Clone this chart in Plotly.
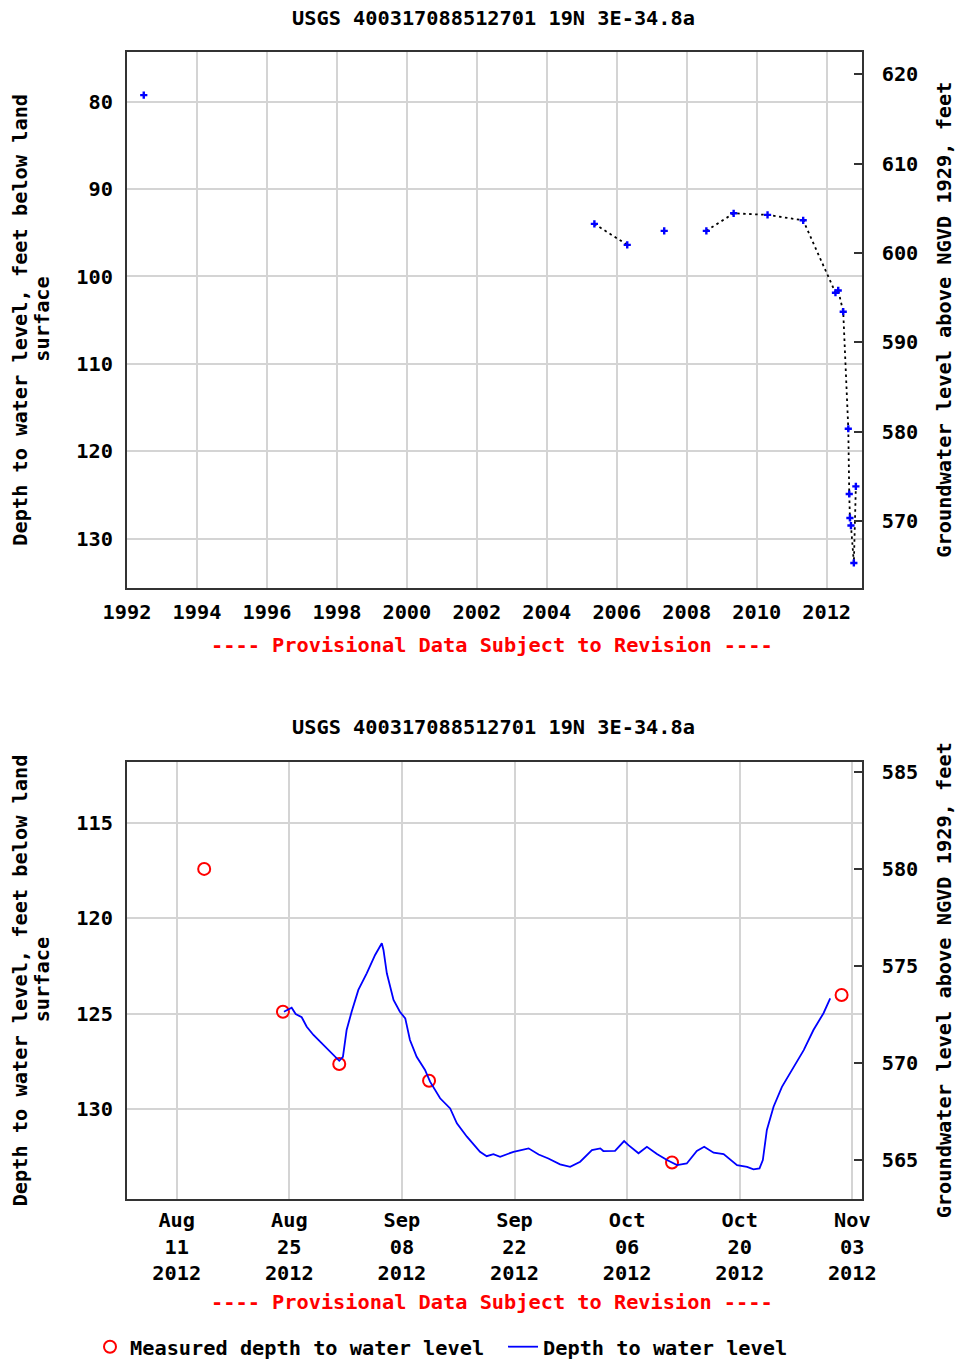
import plotly.graph_objects as go

# ---------------- data ----------------
site_title = "USGS 400317088512701 19N 3E-34.8a"
provisional = "---- Provisional Data Subject to Revision ----"

# Top chart: periodic measurements (depth below land surface, ft)
top_dates = ["1992-06-24", "2005-05-12", "2006-04-20", "2007-05-11", "2008-07-24",
             "2009-05-05", "2010-04-24", "2011-05-01", "2012-04-02", "2012-05-01",
             "2012-06-22", "2012-08-14", "2012-08-24", "2012-08-31", "2012-09-11",
             "2012-10-11", "2012-11-01"]
top_depths = [79.25, 93.98, 96.38, 94.78, 94.78,
              92.77, 92.95, 93.57, 101.86, 101.60,
              104.03, 117.42, 124.89, 127.63, 128.50,
              132.78, 124.02]
# indices before which the dotted connecting line is broken
top_line_breaks = [1, 3, 4]

# Bottom chart: measured depths
meas_dates = ["2012-08-14 10:00", "2012-08-24 05:00", "2012-08-31 05:00",
              "2012-09-11 09:00", "2012-10-11 14:00", "2012-11-01 16:00"]
meas_depths = [117.42, 124.89, 127.63, 128.50, 132.78, 124.02]

# Bottom chart: continuous depth record
line_dates = [
    "2012-08-24 08:00", "2012-08-25 07:00", "2012-08-25 19:00", "2012-08-26 13:00",
    "2012-08-27 04:00", "2012-08-28 00:00", "2012-08-28 20:00", "2012-08-29 21:00",
    "2012-08-31 05:00", "2012-08-31 16:00", "2012-09-01 03:00", "2012-09-01 18:00",
    "2012-09-02 14:00", "2012-09-03 15:00", "2012-09-04 16:00", "2012-09-05 12:00",
    "2012-09-05 17:00", "2012-09-06 03:00", "2012-09-06 23:00", "2012-09-07 18:00",
    "2012-09-08 10:00", "2012-09-09 00:00", "2012-09-09 20:00", "2012-09-10 21:00",
    "2012-09-11 12:00", "2012-09-12 18:00", "2012-09-14 00:00", "2012-09-14 20:00",
    "2012-09-16 02:00", "2012-09-17 17:00", "2012-09-18 13:00", "2012-09-19 09:00",
    "2012-09-20 05:00", "2012-09-21 21:00", "2012-09-23 18:00", "2012-09-25 00:00",
    "2012-09-26 05:00", "2012-09-27 16:00", "2012-09-28 22:00", "2012-09-30 04:00",
    "2012-10-01 15:00", "2012-10-02 16:00", "2012-10-03 01:00", "2012-10-04 12:00",
    "2012-10-05 15:00", "2012-10-06 04:00", "2012-10-07 10:00", "2012-10-08 11:00",
    "2012-10-09 17:00", "2012-10-10 23:00", "2012-10-12 05:00", "2012-10-13 10:00",
    "2012-10-14 16:00", "2012-10-15 14:00", "2012-10-16 18:00", "2012-10-18 00:00",
    "2012-10-19 16:00", "2012-10-20 22:00", "2012-10-21 17:00", "2012-10-22 11:00",
    "2012-10-22 21:00", "2012-10-23 09:00", "2012-10-24 05:00", "2012-10-25 06:00",
    "2012-10-26 12:00", "2012-10-27 23:00", "2012-10-29 04:00", "2012-10-30 10:00",
    "2012-10-31 06:00"]
line_depths = [
    124.89, 124.68, 125.01, 125.18,
    125.68, 126.11, 126.46, 126.90,
    127.46, 127.25, 125.85, 124.89,
    123.75, 122.88, 121.92, 121.31,
    121.66, 122.88, 124.28, 124.89,
    125.24, 126.37, 127.25, 127.94,
    128.55, 129.42, 129.95, 130.73,
    131.43, 132.22, 132.45, 132.34,
    132.48, 132.22, 132.04, 132.36,
    132.57, 132.88, 133.01, 132.74,
    132.13, 132.04, 132.18, 132.17,
    131.66, 131.87, 132.30, 131.96,
    132.34, 132.65, 132.92, 132.83,
    132.17, 131.96, 132.27, 132.34,
    132.92, 133.01, 133.14, 133.09,
    132.65, 131.08, 129.86, 128.82,
    127.94, 126.90, 125.85, 124.97,
    124.19]

# ---------------- styling ----------------
W, H = 955, 1359
FONT = dict(family="DejaVu Sans Mono", size=20.3, color="black", weight="bold")
GRID = "#d4d4d4"
LINE = "#333333"


def px(x):
    return x / W


def py(y):
    return 1 - y / H


XDOM = [px(127), px(861.7)]
TOP_DOM = [py(587.7), py(51.7)]
BOT_DOM = [py(1199), py(761.7)]

# build dotted line with breaks
dl_x, dl_y = [], []
for i, (d, v) in enumerate(zip(top_dates, top_depths)):
    if i in top_line_breaks and dl_x:
        dl_x.append(None)
        dl_y.append(None)
    dl_x.append(d)
    dl_y.append(v)

fig = go.Figure()
fig.add_trace(go.Scatter(x=dl_x, y=dl_y, mode="lines", xaxis="x", yaxis="y",
                         line=dict(color="black", width=1.8, dash="2.5px,3.5px"),
                         connectgaps=False, showlegend=False, hoverinfo="skip"))
fig.add_trace(go.Scatter(x=top_dates, y=top_depths, mode="markers", xaxis="x", yaxis="y",
                         marker=dict(symbol="cross", size=6, color="blue"),
                         showlegend=False))
# empty traces so that the right-hand elevation axes are drawn
fig.add_trace(go.Scatter(x=[], y=[], xaxis="x", yaxis="y2", showlegend=False,
                         hoverinfo="skip"))
fig.add_trace(go.Scatter(x=[], y=[], xaxis="x2", yaxis="y4", showlegend=False,
                         hoverinfo="skip"))
fig.add_trace(go.Scatter(x=meas_dates, y=meas_depths, mode="markers", xaxis="x2", yaxis="y3",
                         marker=dict(symbol="circle-open", size=12, color="red",
                                     line=dict(width=2, color="red")),
                         name="Measured depth to water level"))
fig.add_trace(go.Scatter(x=line_dates, y=line_depths, mode="lines", xaxis="x2", yaxis="y3",
                         line=dict(color="blue", width=1.8),
                         name="Depth to water level"))

common_axis = dict(showline=True, linecolor=LINE, linewidth=2, mirror=True,
                   gridcolor=GRID, gridwidth=2, zeroline=False, tickfont=FONT,
                   automargin=False)
right_axis = dict(side="right", ticks="inside", ticklen=8, tickwidth=2,
                  tickcolor=LINE, showgrid=False, showline=False, zeroline=False,
                  tickfont=FONT, automargin=False, ticklabelstandoff=19)

fig.update_layout(
    width=W, height=H,
    margin=dict(l=0, r=0, t=0, b=0, autoexpand=False),
    paper_bgcolor="white", plot_bgcolor="white",
    font=FONT,
    xaxis=dict(domain=XDOM, anchor="y", type="date",
               range=["1992-01-01", "2013-01-01"], tick0="1992-01-01", dtick="M24",
               tickformat="%Y", ticks="", showgrid=True, ticklabelstandoff=5,
               **common_axis),
    yaxis=dict(domain=TOP_DOM, anchor="x", range=[135.61, 74.28], tick0=80, dtick=10,
               ticks="", showgrid=True, ticklabelstandoff=8, **common_axis),
    yaxis2=dict(overlaying="y", anchor="x", range=[562.53, 622.53],
                tick0=620, dtick=10, **right_axis),
    xaxis2=dict(domain=XDOM, anchor="y3", type="date",
                range=["2012-08-04 19:40", "2012-11-04 04:00"], tick0="2012-08-11",
                dtick=14 * 86400000, tickformat="%b<br>%d<br>%Y", ticks="",
                showgrid=True, ticklabelstandoff=2, **common_axis),
    yaxis3=dict(domain=BOT_DOM, anchor="x2", range=[134.69, 111.81], tick0=115, dtick=5,
                ticks="", showgrid=True, ticklabelstandoff=8, **common_axis),
    yaxis4=dict(overlaying="y3", anchor="x2", range=[562.99, 585.55],
                tick0=565, dtick=5, **right_axis),
    legend=dict(orientation="h", x=px(90), y=py(1347), xanchor="left", yanchor="middle",
                font=FONT, bgcolor="rgba(0,0,0,0)", entrywidth=368,
                entrywidthmode="pixels", itemclick=False),
    showlegend=True,
)

red_font = dict(FONT, color="red")
ann = []
for ty, ry, pcy in [(18, 645, (51.7 + 587.7) / 2), (727, 1302, (761.7 + 1199) / 2)]:
    ann.append(dict(text=site_title, x=px(494), y=py(ty), xref="paper", yref="paper",
                    xanchor="center", yanchor="middle", showarrow=False, font=FONT))
    ann.append(dict(text=provisional, x=px(492), y=py(ry), xref="paper", yref="paper",
                    xanchor="center", yanchor="middle", showarrow=False, font=red_font))
    ann.append(dict(text="Depth to water level, feet below land", x=px(20), y=py(pcy),
                    xref="paper", yref="paper", xanchor="center", yanchor="middle",
                    textangle=-90, showarrow=False, font=FONT))
    ann.append(dict(text="surface", x=px(42), y=py(pcy), xref="paper", yref="paper",
                    xanchor="center", yanchor="middle", textangle=-90, showarrow=False,
                    font=FONT))
    ann.append(dict(text="Groundwater level above NGVD 1929, feet", x=px(944), y=py(pcy),
                    xref="paper", yref="paper", xanchor="center", yanchor="middle",
                    textangle=-90, showarrow=False, font=FONT))
fig.update_layout(annotations=ann)

# remove the default page margin so the 955x1359 figure fills the window exactly
fig.write_html("out.html", config={"displayModeBar": False},
               post_script="document.body.style.margin='0px';"
                           "document.body.style.overflow='hidden';")
